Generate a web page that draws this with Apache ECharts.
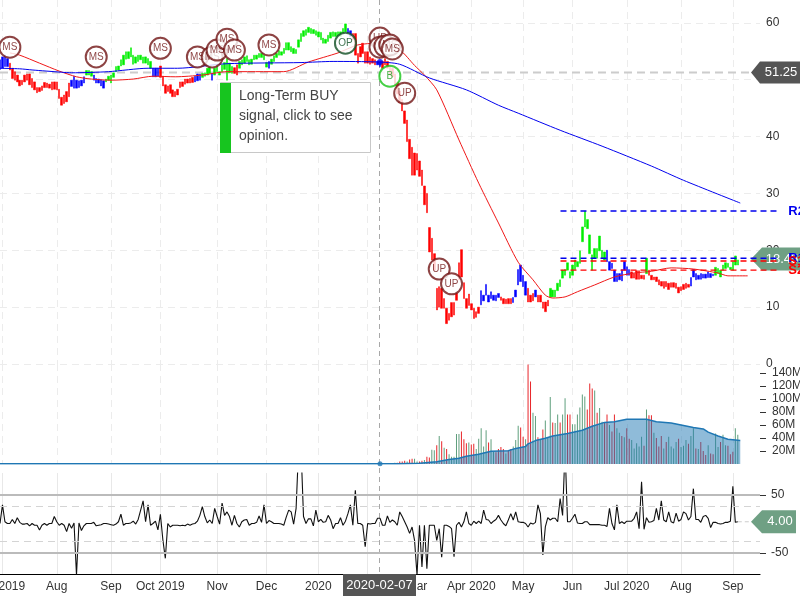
<!DOCTYPE html>
<html>
<head>
<meta charset="utf-8">
<style>html,body{margin:0;padding:0;background:#fff}#c{width:800px;height:600px}</style>
<script src="https://cdn.jsdelivr.net/npm/echarts@6/dist/echarts.min.js"></script>
</head>
<body>
<div id="c"></div>
<script>
const FONT = '"Liberation Sans", Arial, sans-serif';
const slotCount = 309;
const overlaySlots = 324;
const monthTicks = [1,23,45,65,88,108,129,149,169,191,212,232,254,276,297];
const monthLabels = ['Jul 2019','Aug','Sep','Oct 2019','Nov','Dec','2020','Feb','Mar','Apr 2020','May','Jun','Jul 2020','Aug','Sep'];

const priceHigh = [
53.5,54.0,54.3,53.7,52.9,52.0,51.4,50.8,49.9,49.9,
50.8,51.0,51.0,50.2,49.6,48.6,48.6,48.9,49.5,49.4,
49.2,49.6,49.6,49.6,48.3,46.9,47.3,47.9,49.4,49.9,
50.6,49.9,49.8,49.9,50.5,51.6,51.6,51.4,50.8,50.2,
50.1,50.0,49.8,50.1,50.6,50.8,51.2,52.3,52.4,53.5,
54.3,54.9,54.9,55.6,54.3,54.0,54.3,54.3,54.0,54.0,
53.7,53.2,52.0,52.0,52.0,52.4,50.6,49.1,48.9,49.1,
48.2,47.9,48.3,49.6,49.6,50.1,50.1,50.2,50.4,50.6,
51.0,51.0,51.1,51.2,52.0,52.3,51.1,52.0,52.6,51.4,
52.6,53.0,53.7,52.9,52.3,52.1,52.6,53.2,53.5,54.0,
54.2,53.5,53.6,54.3,54.3,54.6,54.6,54.3,53.0,53.2,
53.6,54.2,54.6,55.1,54.9,55.5,56.5,56.5,55.8,55.5,
55.3,57.0,58.1,58.6,58.8,59.2,59.0,58.8,58.6,58.4,
58.3,57.3,57.1,57.8,58.3,58.4,58.3,58.4,58.4,59.0,
59.8,59.0,58.6,58.1,58.1,54.6,55.8,56.4,54.9,54.9,
54.0,53.7,53.5,53.2,53.2,53.2,53.7,53.2,52.4,52.0,
51.0,49.5,48.0,46.5,44.5,42.9,39.5,38.1,37.1,37.0,
35.7,34.1,31.3,30.0,24.0,22.1,19.4,13.3,13.6,13.3,
11.5,9.8,8.9,10.8,10.8,12.4,17.8,20.1,14.3,11.5,
12.3,10.6,9.8,9.2,10.0,12.9,12.1,14.0,12.1,12.7,
12.1,12.1,12.4,11.8,11.5,11.4,11.5,11.5,11.7,13.0,
16.6,17.4,15.6,14.5,13.3,12.1,12.4,13.0,12.1,12.1,
10.9,10.9,11.2,13.3,13.0,13.0,14.2,14.8,16.5,16.6,
17.8,16.2,17.4,18.3,18.0,19.9,24.1,26.9,25.4,22.7,
19.2,20.3,20.3,22.5,20.0,19.7,20.0,18.0,17.7,16.5,
15.9,15.9,16.6,18.0,17.1,16.6,16.2,15.9,16.4,16.4,
15.6,15.6,18.6,16.5,15.6,15.3,15.3,14.8,14.5,14.5,
14.5,14.2,14.3,14.3,14.2,13.5,13.6,14.0,14.2,14.0,15.2,
16.6,15.9,15.6,15.9,15.8,15.8,16.2,15.9,15.8,17.0,
16.8,16.5,17.4,17.8,17.7,17.0,18.0,19.0,18.3];

const priceLow = [
51.8,52.0,52.3,52.3,51.7,50.2,49.9,49.6,48.9,49.1,
49.6,49.9,49.1,48.6,48.2,47.7,47.9,48.1,48.6,48.6,
48.5,48.2,48.3,48.2,46.7,45.5,45.8,46.1,47.0,48.8,
48.5,48.5,48.6,48.9,49.4,50.8,50.8,50.6,49.9,49.4,
49.4,48.9,48.5,49.6,49.9,49.4,50.4,51.4,51.7,52.4,
52.6,53.6,53.7,54.0,52.7,52.9,53.2,53.5,52.9,52.9,
52.6,52.0,50.5,50.5,50.6,50.4,48.9,47.6,47.9,47.6,
47.0,47.0,47.3,48.6,48.8,49.2,49.4,49.4,49.5,49.6,
49.8,49.9,50.4,50.6,50.8,51.1,49.9,50.8,51.4,50.8,
51.4,51.8,49.9,51.2,51.1,51.1,50.8,52.0,52.6,52.9,
53.2,52.6,52.7,53.5,53.6,53.9,53.9,53.5,52.2,52.0,
52.7,53.2,53.9,54.3,54.3,54.6,55.2,55.2,54.9,54.6,
54.6,55.7,56.7,57.6,57.8,58.3,58.1,58.1,57.8,57.5,
57.0,56.4,56.4,56.7,57.3,57.6,57.6,57.6,57.6,58.1,
58.4,58.1,57.6,57.0,54.3,52.9,54.0,54.6,52.9,52.9,
52.7,52.9,52.6,52.6,52.3,52.0,52.6,52.0,50.8,50.5,
49.0,47.5,46.0,44.5,42.3,39.1,36.1,33.2,33.2,34.1,
33.0,31.4,28.0,26.6,19.7,18.3,16.5,9.5,10.0,9.8,
9.8,7.1,7.7,8.3,8.6,11.2,14.8,15.3,11.5,9.8,
10.3,9.5,8.0,8.2,8.9,10.4,11.1,12.1,10.9,11.5,
11.2,11.1,11.7,11.2,10.6,10.6,10.6,10.6,10.8,11.8,
13.9,14.5,13.6,12.1,10.9,10.9,11.1,11.8,10.9,10.9,
9.8,9.2,10.2,11.8,11.8,11.8,12.9,13.6,15.1,15.6,
16.5,15.1,15.6,16.6,17.1,17.7,21.5,24.1,23.8,19.4,
16.5,18.6,18.6,19.9,18.6,18.3,18.0,16.5,16.8,14.5,
14.5,14.8,14.6,16.5,15.6,15.6,15.1,15.1,14.9,14.9,
15.0,14.9,15.9,15.6,14.8,14.8,14.5,13.9,13.7,13.3,
13.6,13.1,13.5,13.5,13.3,12.5,12.9,13.1,13.3,13.5,13.7,
15.3,14.8,14.9,14.9,15.1,15.1,15.2,15.2,15.5,15.6,
15.9,15.3,16.5,16.8,17.0,16.6,16.5,17.4,17.4];

const trend =
 'bbbbrrrrrr'+'rrrrrrrrrr'+'rrrrrrrrrb'+'bbbbbgggbb'+'bbbggggggg'+'gggggggggg'+'ggbbbrrrrr'+'rrrrrrrrrb'+
 'bbggggbggg'+'gggggrrggg'+'gggggggggb'+'gggggggggg'+'gggggggggg'+'gggggggggg'+'gbbrrrrrrr'+'rrrbbrrrrr'+
 'rrrrrrrrrr'+'rrrrrrrrrr'+'rrrrrrrrrr'+'rrrrrbbbbb'+'bbbrrrrrbb'+'bbbbrrrbrr'+'rrrggggggg'+'gggggggggg'+
 'ggggggbbbb'+'bbbbbbrrrr'+'rrgrrrrrrr'+'rrrrrrrrrrb'+'bbbbbbbbbg'+'ggggggggg';

const redAvgIdx = [4,8,16,24,31,37,45,54,62,71,82,92,115,125,137,145,153,162,168,172,177,186,194,202,210,216,221,224,229,234,241,249,257,264,272,281,291,295,303];
const redAvgVal = [54.7,54.3,52.9,51.5,50.5,50.1,49.9,50.1,50.6,50.5,50.8,51.4,51.4,53.1,54.7,56.1,56.4,55.2,52.5,50.8,48.2,39.4,31.8,24.8,17.9,14.8,12.1,11.6,11.8,12.7,13.9,15.3,16.0,16.3,16.9,16.7,16.0,15.5,15.5];
const blueAvgIdx = [0,8,13,25,29,44,60,72,92,122,135,153,162,174,189,202,210,227,244,264,277,300];
const blueAvgVal = [52.0,51.9,51.7,51.3,51.2,51.4,52.0,52.0,52.8,53.0,53.2,53.1,52.7,50.3,48.2,45.5,44.1,41.1,38.3,34.8,32.3,28.3];

const levelNames = ['R2','R1','S1','S2'];
const levelVals = [26.9,18.6,18.1,16.5];
const levelColors = ['#0000ee','#0000ee','#ff0000','#ff0000'];
const levelStart = 227, levelEnd = 316;

const signalText  = ['MS','MS','MS','MS','MS','MS','MS','MS','MS','OP','UP','UP','UP','MS','MS','B','UP','UP','UP'];
const signalIdx   = [4,39,65,80,86,88,92,95,109,140,154,154,156,158,159,158,164,178,183];
const signalPrice = [55.7,54.0,55.5,54.0,54.0,55.2,57.1,55.2,56.1,56.4,57.3,55.7,55.9,56.1,55.4,50.6,47.6,16.7,14.1];

const volumeEarly = [
.5,.4,.6,.8,.5,.4,.7,.5,.6,.4, .5,.9,.6,.4,.5,.7,.4,.5,.8,.6,
.5,.4,.7,.6,.9,.5,.8,1,.6,.4, .6,.7,1.1,.5,.6,.4,.5,.6,.4,.6,
.5,.4,.5,.7,.5,.4,.5,.6,.4,.5, .5,.6,.8,.5,.4,.6,.5,.4,.4,.6,
.9,.7,.5,.6,.4,.8,1,.7,.5,.4, .7,.6,1,.8,1.2,.9,.6,.5,.7,.5,
.6,.5,.4,.5,.7,.6,.9,.8,.6,.5, .7,.9,1.1,.8,.6,.5,.4,.6,.5,.7,
.5,.5,.4,.5,.8,.6,.4,.6,.5,.4, .5,.4,.6,.5,.4,.4,.5,.7,.4,.5,
.5,.6,.4,.5,.4,.6,.5,.4,.7,.5, .5,.6,.5,.8,.6,.5,.7,.9,.6,.4,
.5,.4,.6,.5,.7,.4,.6,.5,.5,.7, .8,.6,.5,.9,.7,.6,.8,1,1.2,1.5,
1.8,2];
const volumeLate = [
4,4,5,4,7,8,8,4,4,
5,6,11,10,22,21,29,43,35,25,
23,15,11,11,46,46,50,38,32,33,
30,31,23,39,55,27,52,33,38,19,
18,23,26,23,16,21,23,27,37,59,
56,42,38,153,127,79,74,41,37,53,
67,41,103,64,63,76,64,76,101,76,
76,61,61,76,87,107,104,84,124,116,
113,79,86,65,63,76,60,50,76,55,
48,43,41,55,39,37,24,32,27,42,
28,84,75,75,48,40,27,43,24,34,
42,27,24,34,39,26,28,37,31,43,
55,24,23,34,20,14,29,16,15,47,
26,34,45,29,28,15,19,55,45];
const toneEarly = 'grrgrggrgr'.repeat(16)+'gr';
const toneLate = 'rrrgrrggr'+'rgrrggrgrg'+'rgggggrrrg'+'rrgggggrgg'+'rrrrgrrggg'+'rrgrrggrgr'+'gggrggrggr'+'rggggggrrr'+'grggrrgrrg'+'grgrrggggg'+'rgrrgrrrgr'+'ggggrgggrg'+'grgrrrgrrg'+'grggrrrgg';

const volAvgIdx = [0,161,170,177,182,186,189,194,199,206,209,213,214,217,221,224,230,236,240,245,249,254,262,266,272,276,281,285,287,291,295,300];
const volAvgVal = [.5,.5,1,3.6,7,9,12,15,19.5,20.5,24,27,31,36,39.5,43,47,52,58,64,65,69,69,65,63,60,56,54,49,43,38,36];
const volTicks = [20,40,60,80,100,120,140];

const osc = [
1,33,4,1,1,8,1,11,3,0,
0,1,-3,1,-2,-2,-10,-2,1,-2,
1,1,13,4,-2,1,-2,-13,1,-7,
2,-88,2,-11,-3,1,1,1,3,-3,
-2,-1,1,1,0,-1,-2,0,4,17,
-2,1,1,2,5,0,8,24,40,4,
33,-2,1,5,-10,17,-27,-59,1,-5,
-2,-2,-2,-3,-2,-3,0,-2,0,1,
5,15,30,13,2,7,1,27,13,0,
36,15,21,13,-2,15,1,-5,4,7,
8,-2,1,1,3,14,3,33,1,6,
4,1,1,1,0,-2,12,24,21,0,
27,130,130,13,1,9,9,-3,24,4,
8,3,4,15,7,-8,1,1,11,-2,
5,18,33,-2,58,1,1,-2,-39,1,
0,1,1,10,10,-2,-2,14,3,7,4,
-2,21,13,4,-5,-16,-5,-28,-88,-2,
-74,-2,-77,-2,-2,-2,-28,-8,-57,-2,
-2,-4,-8,-56,-2,3,-5,4,21,1,
-2,5,1,5,1,24,8,7,1,5,
8,15,7,1,-3,7,18,7,21,4,
3,3,1,-5,2,0,3,33,18,-53,
-5,11,7,10,10,4,44,15,130,4,
4,10,17,2,1,1,4,4,-1,-1,
-1,-1,-1,-2,-2,-4,27,1,-10,33,
1,4,1,5,5,5,10,21,-8,73,
-9,11,3,4,6,27,7,40,7,4,
21,4,2,19,5,8,21,18,7,13,
61,8,8,3,13,15,10,-6,3,3,
1,0,1,3,3,5,65,3,4];
const oscSolid = [50,-50];
const oscDashed = [30,-30];

const crossIdx = 154;
const crossDate = '2020-02-07';
const crossPrice = 51.25;
const lastPrice = 18.45;
const lastOsc = 4.00;
const blueAtCross = 53.1;
const volAtCross = 0.5;

const trendColor = {r:'#ff0000', b:'#0000ff', g:'#00ee00'};
const toneColor = {r:'#e8262a', g:'#5f9f7d'};
const signalStyle = {
  MS:{b:'#701414',t:'#701414'}, UP:{b:'#701414',t:'#701414'},
  OP:{b:'#0f4d22',t:'#0f4d22'}, B:{b:'#18c418',t:'#149a14'}
};

const categories = Array.from({length:slotCount},(_,i)=>{
  const k = monthTicks.indexOf(i);
  return k>=0 ? monthLabels[k] : '';
});
const isTick = i => monthTicks.indexOf(i)>=0;

const candle = priceHigh.map((h,i)=>{
  const c = trendColor[trend[i]];
  return {value:[priceLow[i],h,priceLow[i],h], itemStyle:{color:c,color0:c,borderColor:c,borderColor0:c,borderWidth:0.5}};
});
const volume = volumeEarly.concat(volumeLate).map((v,i)=>({
  value:v, itemStyle:{color:toneColor[(toneEarly+toneLate)[i]]}
}));
const zipPairs = (a,b)=>a.map((x,i)=>[x,b[i]]);

const xBase = (gridIndex,opts)=>Object.assign({
  type:'category', data:categories, gridIndex, boundaryGap:false, min:0, max:slotCount-1,
  axisLine:{show:false}, axisTick:{show:false}, axisLabel:{show:false},
  splitLine:{show:true, interval:isTick, lineStyle:{color:'#ececec',type:[7,5],width:1}}
},opts||{});

const series = [
  {type:'candlestick', xAxisIndex:0, yAxisIndex:0, data:candle, barWidth:2, z:3, silent:true},
  {type:'line', xAxisIndex:0, yAxisIndex:0, data:zipPairs(redAvgIdx,redAvgVal), showSymbol:false, smooth:0.25, lineStyle:{color:'#f01818',width:1}, z:4, silent:true},
  {type:'line', xAxisIndex:0, yAxisIndex:0, data:zipPairs(blueAvgIdx,blueAvgVal), showSymbol:false, smooth:0.25, lineStyle:{color:'#0000ee',width:1}, z:4, silent:true},
  {type:'scatter', xAxisIndex:0, yAxisIndex:0, data:[[crossIdx,blueAtCross]], symbolSize:6, itemStyle:{color:'#0000ee'}, z:5, silent:true},
  {type:'bar', xAxisIndex:1, yAxisIndex:1, data:volume, barWidth:1, z:3, silent:true},
  {type:'line', xAxisIndex:1, yAxisIndex:1, data:zipPairs(volAvgIdx,volAvgVal), showSymbol:false,
    lineStyle:{color:'#1f77b4',width:1.5}, areaStyle:{color:'#1f77b4',opacity:.5}, z:4, silent:true},
  {type:'scatter', xAxisIndex:1, yAxisIndex:1, data:[[crossIdx,volAtCross]], symbolSize:5, itemStyle:{color:'#1f77b4'}, z:5, silent:true},
  {type:'line', xAxisIndex:2, yAxisIndex:2, data:osc, showSymbol:false, lineStyle:{color:'#111',width:1.1}, z:4, silent:true,
    markLine:{silent:true, symbol:'none', animation:false, label:{show:false},
      data:oscSolid.map(v=>({yAxis:v,lineStyle:{color:'#bbbbbb',type:'solid',width:2}}))
        .concat(oscDashed.map(v=>({yAxis:v,lineStyle:{color:'#d4d4d4',type:[7,5],width:1}})))}}
];
levelNames.forEach((n,k)=>{
  series.push({type:'line', xAxisIndex:3, yAxisIndex:3, silent:true, z:6,
    data:[[levelStart,levelVals[k]],[levelEnd,levelVals[k]]], showSymbol:false,
    lineStyle:{color:levelColors[k],type:[6,4],width:1.4},
    endLabel:{show:true, formatter:n, color:levelColors[k], fontFamily:FONT, fontWeight:'bold', fontSize:13, distance:8}});
});
signalText.forEach((t,k)=>{
  const st = signalStyle[t];
  series.push({type:'scatter', xAxisIndex:0, yAxisIndex:0, silent:true, z:10+k,
    data:[[signalIdx[k],signalPrice[k]]], symbol:'circle', symbolSize:21,
    itemStyle:{color:'#fff',borderColor:st.b,borderWidth:2},
    label:{show:true,position:'inside',formatter:t,color:st.t,fontFamily:FONT,fontSize:10}});
});

const chart = echarts.init(document.getElementById('c'),null,{renderer:'canvas',width:800,height:600});
chart.setOption({
  animation:false,
  backgroundColor:'#fff',
  textStyle:{fontFamily:FONT},
  grid:[
    {left:0,right:40,top:0,height:364,outerBoundsMode:'none'},
    {left:0,right:40,top:364,height:100,outerBoundsMode:'none'},
    {left:0,right:40,top:473,height:101,outerBoundsMode:'none'},
    {left:0,right:0,top:0,height:364,outerBoundsMode:'none'}
  ],
  xAxis:[
    xBase(0), xBase(1),
    xBase(2,{
      axisLine:{show:true,onZero:false,lineStyle:{color:'#000',width:1.2}},
      axisLabel:{show:true,interval:isTick,margin:7,color:'#333',fontSize:12,fontFamily:FONT,hideOverlap:false},
      splitLine:{show:true,interval:isTick,lineStyle:{color:'#e8e8e8',type:'solid',width:1}}
    }),
    {type:'value',gridIndex:3,min:0,max:overlaySlots,show:false}
  ],
  yAxis:[
    {type:'value',gridIndex:0,position:'right',min:0,max:64,interval:10,
      axisLine:{show:false},axisTick:{show:false},
      axisLabel:{margin:6,color:'#333',fontSize:12,fontFamily:FONT,customValues:[0,10,20,30,40,50,60]},
      splitLine:{show:true,showMaxLine:false,lineStyle:{color:'#ececec',type:[7,5],width:1}}},
    {type:'value',gridIndex:1,position:'right',min:0,max:153.85,
      axisLine:{show:false},splitLine:{show:false},
      axisTick:{show:true,length:6,customValues:volTicks,lineStyle:{color:'#333'}},
      axisLabel:{margin:12,color:'#333',fontSize:12,fontFamily:FONT,customValues:volTicks,formatter:v=>v+'M'}},
    {type:'value',gridIndex:2,position:'right',min:-86,max:88,
      axisLine:{show:false},splitLine:{show:false},
      axisTick:{show:true,length:6,customValues:oscSolid,lineStyle:{color:'#333'}},
      axisLabel:{margin:11,color:'#333',fontSize:12,fontFamily:FONT,customValues:oscSolid}},
    {type:'value',gridIndex:3,min:0,max:64,show:false}
  ],
  series
});

const px = i=>chart.convertToPixel({xAxisIndex:0},i);
const py = (g,v)=>chart.convertToPixel({yAxisIndex:g},v);
const cx = px(crossIdx)-0.5;
const cy = py(0,crossPrice);
const lastY = py(0,lastPrice);
const oscY = py(2,lastOsc);
const oscEnd = px(priceHigh.length-1);
function tag(y,fill,text,right,bodyLeft,h){
  const t=y-h/2,b=y+h/2;
  return [
    {type:'polygon',z:1,silent:true,shape:{points:[[751,y],[bodyLeft,t],[right,t],[right,b],[bodyLeft,b]]},style:{fill}},
    {type:'text',z:1,silent:true,style:{x:(bodyLeft+right)/2+1,y,text,fill:'#fff',font:'13px '+FONT,align:'center',verticalAlign:'middle'}}
  ];
}
chart.setOption({graphic:{elements:[
  {type:'line',z:1,silent:true,shape:{x1:cx,y1:0,x2:cx,y2:574},style:{stroke:'#a8a8a8',lineWidth:1,lineDash:[5,4]}},
  {type:'line',z:1,silent:true,shape:{x1:0,y1:cy,x2:751,y2:cy},style:{stroke:'#cccccc',lineWidth:2,lineDash:[8,5]}},
  {type:'line',z:1,silent:true,shape:{x1:oscEnd,y1:oscY,x2:752,y2:oscY},style:{stroke:'#cccccc',lineWidth:1,lineDash:[4,3]}},
  ...tag(cy,'#555555',crossPrice.toFixed(2),800,760,22),
  ...tag(lastY,'#6fa084',lastPrice.toFixed(2),800,762,23),
  ...tag(oscY,'#6fa084',lastOsc.toFixed(2),796,762,23),
  {type:'rect',z:30,silent:true,shape:{x:343,y:574,width:73,height:22},style:{fill:'#555555'}},
  {type:'text',z:31,silent:true,style:{x:379.5,y:585,text:crossDate,fill:'#fff',font:'13px '+FONT,align:'center',verticalAlign:'middle'}},
  {type:'rect',z:50,silent:true,shape:{x:220.5,y:82.5,width:150,height:70},style:{fill:'#fff',stroke:'#c8c8c8',lineWidth:1}},
  {type:'rect',z:51,silent:true,shape:{x:220,y:83,width:11,height:70},style:{fill:'#17c51f'}},
  {type:'text',z:51,silent:true,style:{x:239,y:86,text:'Long-Term BUY\nsignal, click to see\nopinion.',fill:'#444',font:'14px '+FONT,lineHeight:20,align:'left',verticalAlign:'top'}}
]}});
</script>
</body>
</html>
